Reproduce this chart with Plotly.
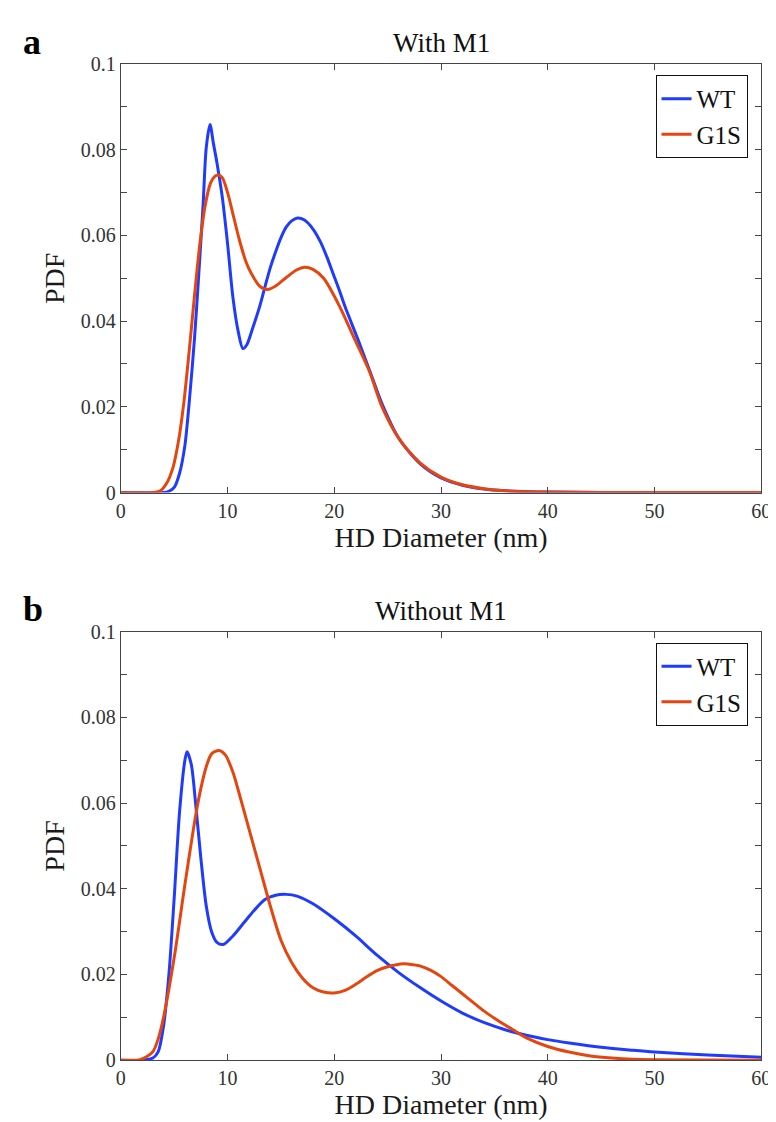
import plotly.graph_objects as go

# ---------------- data ----------------
# Panel a: With M1
a_wt_x = [0, 4, 4.5, 5, 5.5, 6, 6.4, 6.9, 7.3, 7.7, 8.0, 8.35, 8.67, 9.0, 9.5, 10.0, 10.5, 11.0, 11.43,
          11.8, 12.3, 13.0, 13.5, 14.0, 14.5, 15.0, 15.5, 16.0, 16.55, 17.2, 18.0, 18.7, 19.3, 19.9,
          20.5, 21.0, 22.2, 23.35, 24.5, 26, 28, 30, 32, 34, 36, 40, 45, 50, 60]
a_wt_y = [0, 0, 0.0003, 0.0012, 0.0045, 0.011, 0.021, 0.036, 0.051, 0.067, 0.0805, 0.0859, 0.0815,
          0.0770, 0.0690, 0.0580, 0.0455, 0.0375, 0.0336, 0.0345, 0.0380, 0.0434, 0.0480, 0.0525,
          0.0562, 0.0595, 0.0620, 0.0634, 0.0641, 0.0636, 0.0615, 0.0585, 0.0550, 0.0510, 0.0470,
          0.0434, 0.0358, 0.0282, 0.0205, 0.0128, 0.0068, 0.0034, 0.0017, 0.0008, 0.0004, 0.0001,
          0.00002, 0, 0]

a_g1s_x = [0, 3, 3.7, 4.3, 4.9, 5.4, 5.9, 6.4, 6.9, 7.4, 7.9, 8.4, 8.8, 9.13, 9.5, 10.0, 10.5,
           11.1, 11.7, 12.25, 13.0, 13.73, 14.5, 15.5, 16.5, 17.2, 18.0, 19.0, 20.5, 21.9, 23.3,
           24.5, 26, 28, 30, 32, 34, 36, 40, 45, 50, 60]
a_g1s_y = [0, 0, 0.0004, 0.0022, 0.006, 0.012, 0.021, 0.033, 0.046, 0.058, 0.067, 0.0722,
           0.0738, 0.0741, 0.0735, 0.0700, 0.0650, 0.0590, 0.0540, 0.0510, 0.0482, 0.0474,
           0.0482, 0.0502, 0.0520, 0.0526, 0.0521, 0.0500, 0.0434, 0.0358, 0.0282, 0.0198,
           0.0128, 0.0070, 0.0036, 0.0018, 0.0009, 0.0004, 0.0001, 0.00002, 0, 0]

# Panel b: Without M1
b_wt_x = [0, 2, 3, 3.5, 4, 4.5, 5, 5.5, 6, 6.2, 6.6, 7, 7.5, 8, 8.5, 9, 9.6, 10.5, 11.5, 12.5,
          13.5, 14.5, 15.5, 16.5, 18, 20, 22, 24, 26, 28, 30, 32, 34, 36, 38, 40, 42, 45, 48, 50,
          55, 60]
b_wt_y = [0, 0, 0.0005, 0.002, 0.008, 0.020, 0.038, 0.058, 0.070, 0.072, 0.069, 0.060, 0.047,
          0.036, 0.030, 0.0275, 0.027, 0.029, 0.032, 0.035, 0.0375, 0.0385, 0.0387, 0.0383,
          0.0365, 0.033, 0.029, 0.0245, 0.0205, 0.017, 0.0138, 0.011, 0.0088, 0.0071, 0.0058,
          0.0048, 0.004, 0.003, 0.0023, 0.0019, 0.0012, 0.0007]

b_g1s_x = [0, 1.5, 2, 3, 3.5, 4, 5, 6, 7, 7.5, 8, 8.5, 9.2, 9.8, 10.5, 11, 12, 13, 14, 15, 16,
           17, 18, 19, 20, 21, 22, 23, 24, 25, 26.5, 27, 28, 29, 30, 31, 32, 33, 34, 35, 36, 37,
           38, 40, 42, 44, 46, 48, 50, 60]
b_g1s_y = [0, 0, 0.0003, 0.002, 0.005, 0.010, 0.024, 0.041, 0.057, 0.0635, 0.0685, 0.0715,
           0.0723, 0.0712, 0.0672, 0.063, 0.054, 0.045, 0.036, 0.028, 0.0228, 0.0192, 0.0169,
           0.0159, 0.0157, 0.0163, 0.0177, 0.0194, 0.0209, 0.0218, 0.0225, 0.0224, 0.022,
           0.021, 0.0195, 0.0175, 0.0155, 0.0135, 0.0115, 0.0098, 0.0082, 0.0067, 0.0052,
           0.0032, 0.0019, 0.001, 0.0005, 0.0002, 0.0001, 0]

series_names = ["WT", "G1S"]
panel_titles = ["With M1", "Without M1"]
panel_letters = ["a", "b"]
x_ticks = [0, 10, 20, 30, 40, 50, 60]
y_ticks = [0, 0.02, 0.04, 0.06, 0.08, 0.1]
y_tick_text = ["0", "0.02", "0.04", "0.06", "0.08", "0.1"]

# ---------------- styling ----------------
W, H = 776, 1122
BLUE = "#1f3bff"
ORANGE = "#e5460f"
FONT = "Liberation Serif"
AX = "#454545"

left, right = 110, 763
panels = [(46, 483), (625, 1062)]

fig = go.Figure()
data = [((a_wt_x, a_wt_y), (a_g1s_x, a_g1s_y)), ((b_wt_x, b_wt_y), (b_g1s_x, b_g1s_y))]
for i, (wt, g1) in enumerate(data):
    xa = "x" if i == 0 else "x2"
    ya = "y" if i == 0 else "y2"
    lg = "legend" if i == 0 else "legend2"
    for (xs, ys), col, nm in zip((wt, g1), (BLUE, ORANGE), series_names):
        fig.add_trace(go.Scatter(x=xs, y=ys, mode="lines", name=nm, xaxis=xa, yaxis=ya,
                                 legend=lg,
                                 line=dict(color=col, width=3, shape="spline", smoothing=0.8)))

def px_to_paper_y(p):
    return 1 - p / H

axis_common = dict(showline=True, linecolor=AX, linewidth=1, mirror="ticks", ticks="inside",
                   ticklen=6, tickcolor=AX, showgrid=False, zeroline=False,
                   tickfont=dict(family=FONT, size=20, color="#333333"))

layout = dict(width=W, height=H, margin=dict(l=0, r=0, t=0, b=0),
              plot_bgcolor="white", paper_bgcolor="white", showlegend=True)

for i, (top, bot) in enumerate(panels):
    sx = "" if i == 0 else "2"
    layout["xaxis" + sx] = dict(axis_common, domain=[left / W, right / W], range=[0, 60],
                                tickvals=x_ticks, anchor="y" + sx,
                                title=dict(text="HD Diameter (nm)", standoff=4,
                                           font=dict(family=FONT, size=28, color="#1a1a1a")))
    layout["yaxis" + sx] = dict(axis_common, domain=[px_to_paper_y(bot), px_to_paper_y(top)],
                                range=[0, 0.1], tickvals=y_ticks, ticktext=y_tick_text,
                                anchor="x" + sx,
                                minor=dict(dtick=0.01, tick0=0, ticks="inside", ticklen=6,
                                           tickcolor=AX, showgrid=False),
                                title=dict(text="PDF", standoff=8,
                                           font=dict(family=FONT, size=28, color="#1a1a1a")))
    lgname = "legend" if i == 0 else "legend2"
    layout[lgname] = dict(x=749 / W, xanchor="right", y=px_to_paper_y(top + 11), yanchor="top",
                          bgcolor="white", bordercolor="#111111", borderwidth=1,
                          font=dict(family=FONT, size=25, color="#111111"),
                          itemwidth=30, tracegroupgap=0)

fig.update_layout(**layout)

for i, (top, bot) in enumerate(panels):
    fig.add_annotation(text=panel_titles[i], xref="paper", yref="paper",
                       x=(left + right) / 2 / W, y=px_to_paper_y(top - 4), xanchor="center",
                       yanchor="bottom", showarrow=False,
                       font=dict(family=FONT, size=27, color="#111111"))
    fig.add_annotation(text="<b>" + panel_letters[i] + "</b>", xref="paper", yref="paper",
                       x=8 / W, y=px_to_paper_y(top - 23), xanchor="left", yanchor="middle",
                       showarrow=False, font=dict(family=FONT, size=36, color="black"))

fig.write_html("out.html")
